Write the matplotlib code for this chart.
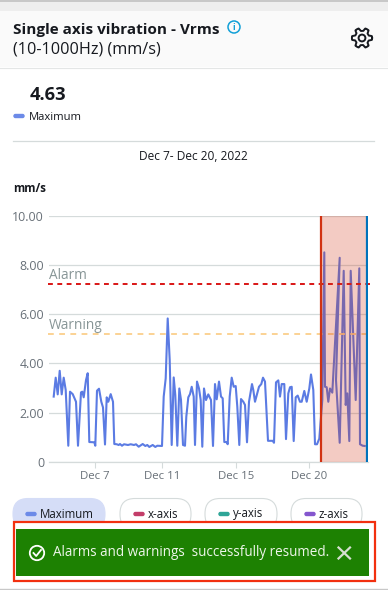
import numpy as np
import matplotlib
matplotlib.use("Agg")
import matplotlib.pyplot as plt
from matplotlib.patches import Rectangle, FancyBboxPatch, Circle

plt.rcParams['font.family'] = ['Open Sans', 'DejaVu Sans']

# position along the time axis, and maximum vibration (mm/s)
sample_pos = [53.7, 55.7, 57.7, 59.7, 61.7, 63.7, 65.7, 68.3, 70, 72.7, 76, 78, 81, 82.3, 83.7, 86, 87.7, 89.3,
              94.3, 95.3, 97, 99, 101.3, 103, 105, 106.7, 108.3, 110.7, 113, 114.3,
              116.7, 118.7, 120, 122, 124, 128, 130.7, 134, 136, 138.7, 142.7, 145.3, 147.3, 149.3, 152.7, 155.3, 157.3, 162,
              163.7, 165.7, 167.7, 169.7, 171.7, 173.7, 175.3, 177.3, 179.3, 181, 183, 185, 186.3, 188.3, 190, 191.7,
              193.7, 195, 197, 199, 200.7, 202.3, 204, 206, 208.3, 211, 213, 215, 216.7, 219, 221, 222.7, 224.3, 226.7,
              227.7, 229.7, 231.7, 233.7, 235.7, 237.3, 239.3, 241, 243.3, 245, 247, 249, 252, 253.3, 255, 259, 261.3,
              263, 265, 268, 272.7, 274, 276, 278.3, 280, 281.7, 284.3, 286, 288.3, 290, 291.7, 293.7, 295.7, 297.7,
              300, 301.7, 304.3, 306.7, 309.3, 311, 313.3, 315, 317, 319.3, 322.3, 324.3, 325, 326.7, 328.3, 330, 332.3,
              339.7, 336, 339.7, 343.7, 345.7, 347.3, 349.3, 350.7, 355.7, 359.3, 360, 362.7, 364.7]
maximum = [2.65, 3.42, 2.74, 3.70, 2.74, 3.42, 2.92, 0.65, 2.85, 2.75, 2.44, 0.65, 2.82, 2.85, 2.62, 3.32, 3.60, 0.80,
           0.79, 0.65, 2.89, 2.97, 2.44, 2.21, 0.70, 2.62, 2.44, 2.75, 2.44, 0.72,
           0.71, 0.68, 0.72, 0.65, 0.71, 0.68, 0.71, 0.68, 0.71, 0.61, 0.72, 0.64, 0.68, 0.60, 0.68, 0.60, 0.65, 0.64,
           2.65, 3.39, 5.83, 4.14, 0.68, 3.43, 2.71, 0.65, 2.98, 2.51, 0.68, 0.65, 1.83, 2.62, 2.75, 3.05,
           2.65, 0.68, 3.26, 2.98, 2.51, 0.61, 2.98, 2.51, 2.74, 2.51, 0.64, 3.16, 2.54, 3.26, 2.65, 2.58, 0.80, 0.80,
           0.71, 2.65, 3.42, 3.05, 3.08, 2.24, 0.68, 2.55, 2.44, 2.31, 0.79, 2.44, 3.16, 2.92, 2.44, 3.05, 3.16,
           3.42, 3.26, 0.85, 0.85, 0.77, 3.23, 3.31, 2.65, 3.16, 3.16, 0.92, 2.78, 3.03, 3.05, 0.84, 2.62, 2.69,
           2.44, 2.44, 2.88, 2.44, 2.98, 3.55, 2.92, 0.71, 0.71, 0.94, 2.51, 8.52, 3.05, 3.03, 2.44, 2.98, 2.81,
           8.30, 3.32, 0.77, 7.77, 2.31, 2.78, 0.84, 7.77, 2.51, 7.87, 0.71, 0.65, 0.64]

tick_pos = [94.7, 161.7, 235.7, 309.3]
tick_labels = ['Dec 7', 'Dec 11', 'Dec 15', 'Dec 20']
y_ticks = [0, 2, 4, 6, 8, 10]
y_labels = ['0', '2.00', '4.00', '6.00', '8.00', '10.00']
alarm_level = 7.25
warning_level = 5.21
selection = [321, 366.7]
pills = ['Maximum', 'x-axis', 'y-axis', 'z-axis']
pill_colors = ['#6c8ae8', '#c33d69', '#2ea597', '#8456ce']

W, H = 388, 590
fig = plt.figure(figsize=(W / 100, H / 100), dpi=100)

# page furniture in pixel coordinates
ui = fig.add_axes([0, 0, 1, 1], zorder=1)
ui.set_xlim(0, W)
ui.set_ylim(H, 0)
ui.axis('off')
ui.add_patch(Rectangle((0, 0), W, 11, color='#eeeeee', lw=0))
ui.add_patch(Rectangle((0, 0), W, 1.5, color='#c8c8c8', lw=0))
ui.add_patch(Rectangle((0, 11), W, 56, color='#fafafa', lw=0))
ui.plot([0, W], [67.5, 67.5], color='#e4e6e6', lw=0.8)
ui.text(13, 30, 'Single axis vibration - Vrms', fontsize=11, fontweight='bold', color='#16191f', va='center')
ui.text(13, 50, '(10-1000Hz) (mm/s)', fontsize=11.7, color='#16191f', va='center')

# info icon
ui.add_patch(Circle((234, 27), 6, fill=False, ec='#12a0d7', lw=1.1))
ui.text(234, 27, 'i', fontsize=6.5, fontweight='bold', color='#12a0d7', ha='center', va='center')

# gear icon
t = np.linspace(0, 2 * np.pi, 361)
r = 8.6 + 1.5 * np.clip(2.2 * np.cos(6 * t), -1, 1)
ui.plot(362 + r * np.cos(t), 38 + r * np.sin(t), color='#16191f', lw=1.4)
ui.add_patch(Circle((362, 38), 3.4, fill=False, ec='#16191f', lw=1.4))

ui.text(30, 95, '4.63', fontsize=13.2, fontweight='bold', color='#16191f', va='center')
ui.add_patch(FancyBboxPatch((14, 114.5), 10, 3, boxstyle='round,pad=0,rounding_size=1.5', fc=pill_colors[0], ec=pill_colors[0], lw=1))
ui.text(29, 117, 'Maximum', fontsize=8.1, color='#16191f', va='center')
ui.plot([13, 374], [140.5, 140.5], color='#d5dbdb', lw=0.9)
ui.text(193, 157, 'Dec 7- Dec 20, 2022', fontsize=8.6, color='#16191f', ha='center', va='center')
ui.text(13, 188, 'mm/s', fontsize=8.3, fontweight='bold', color='#16191f', va='center')

# series pills
pill_x = [(13, 105), (120, 191), (205, 277), (291, 362)]
for i in range(4):
    x0, x1 = pill_x[i]
    if i == 0:
        fc, ec = '#d5ddf7', '#d5ddf7'
    else:
        fc, ec = 'white', '#d5dbdb'
    ui.add_patch(FancyBboxPatch((x0, 498.5), x1 - x0, 31, boxstyle='round,pad=0,rounding_size=15', fc=fc, ec=ec, lw=0.8))
    sw = x0 + (13 if i == 0 else 14)
    ui.add_patch(FancyBboxPatch((sw, 512.5), 10, 3, boxstyle='round,pad=0,rounding_size=1.5', fc=pill_colors[i], ec=pill_colors[i], lw=1))
    ui.text(sw + 13.5, 514, pills[i], fontsize=8.3, color='#16191f', va='center')

# toast
ui.add_patch(Rectangle((13.5, 521.5), 361, 59, fc='white', ec='#f2300f', lw=1.6))
ui.add_patch(Rectangle((16, 529), 353, 47, color='#1d8102', lw=0))
ui.add_patch(Circle((37, 553), 7.2, fill=False, ec='white', lw=1.3))
ui.plot([33.5, 36.2, 41], [553, 556, 550], color='white', lw=1.3)
ui.text(53, 553, 'Alarms and warnings  successfully resumed.', fontsize=9.75, color='#eef6ea', va='center')
ui.plot([338.5, 350], [547.5, 558.5], color='#d5dfd0', lw=1.6)
ui.plot([338.5, 350], [558.5, 547.5], color='#d5dfd0', lw=1.6)
ui.plot([0, W], [588.5, 588.5], color='#c8c8c8', lw=1)

# chart
left, right, top, bottom = 49, 368, 216, 461.7
ax = fig.add_axes([left / W, 1 - bottom / H, (right - left) / W, (bottom - top) / H], zorder=2)
ax.patch.set_alpha(0)
ax.set_xlim(left, right)
ax.set_ylim(0, 10)
for s in ['top', 'right', 'left']:
    ax.spines[s].set_visible(False)
ax.spines['bottom'].set_color('#d5dbdb')
ax.spines['bottom'].set_linewidth(0.9)
ax.set_yticks(y_ticks)
ax.set_yticklabels(y_labels, fontsize=8.9, color='#687078')
ax.tick_params(axis='y', length=0, pad=3.5)
ax.set_xticks(tick_pos)
ax.set_xticklabels(tick_labels, fontsize=8.2, color='#687078')
ax.tick_params(axis='x', length=4, width=0.8, color='#d5dbdb', pad=3)
ax.grid(axis='y', color='#d5dbdb', lw=0.9)
ax.set_axisbelow(True)

ax.plot(sample_pos, maximum, color='#5b7be3', lw=1.5, zorder=3, solid_joinstyle='round')
ax.plot([left - 1, 370], [warning_level] * 2, color='#fbcf8b', lw=1.3, dashes=(3.2, 3.0), zorder=4, clip_on=False)
ax.plot([left - 1, 370], [alarm_level] * 2, color='#d91515', lw=1.4, dashes=(2.5, 2.3), zorder=4, clip_on=False)
ax.text(left, alarm_level + 0.33, 'Alarm', fontsize=9.8, color='#879596', va='center')
ax.text(left, warning_level + 0.34, 'Warning', fontsize=9.9, color='#879596', va='center')

ax.axvspan(selection[0], selection[1], color='#d13212', alpha=0.25, lw=0, zorder=5)
ax.axvline(selection[0], color='#d13212', lw=1.6, zorder=6)
ax.axvline(selection[1], color='#0073bb', lw=1.6, zorder=6)

fig.savefig('out.png', dpi=100)
